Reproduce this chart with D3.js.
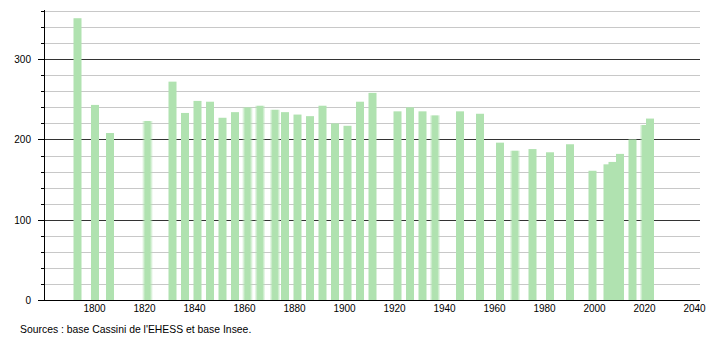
<!DOCTYPE html>
<html><head><meta charset="utf-8">
<script src="https://cdn.jsdelivr.net/npm/d3@7"></script>
<style>body{margin:0;background:#fff}svg{display:block;font-family:"Liberation Sans",Arial,sans-serif}</style>
</head><body><svg id="c" width="710" height="340"></svg>
<script>
const years = [1793,1800,1806,1821,1831,1836,1841,1846,1851,1856,1861,1866,1872,1876,1881,1886,1891,1896,1901,1906,1911,1921,1926,1931,1936,1946,1954,1962,1968,1975,1982,1990,1999,2005,2007,2010,2015,2020,2022];
const population = [351,243,208,223,272,233,248,247,227,234,240,242,237,234,231,229,242,220,217,247,258,235,240,235,230,235,232,196,186,188,184,194,161,169,172,182,200,218,226];
const fadedYears = [1821,1861,1866,1872,1936,1968,2020];
const xTicks = [1800,1820,1840,1860,1880,1900,1920,1940,1960,1980,2000,2020,2040];
const yMajor = [0,100,200,300];
const yMinor = [20,40,60,80,120,140,160,180,220,240,260,280,320,340,360];
const sourceText = "Sources : base Cassini de l'EHESS et base Insee.";

const svg = d3.select("#c");
const x = d3.scaleLinear().domain([1780, 2042]).range([44.5, 699.5]);
const y = d3.scaleLinear().domain([0, 360]).range([300, 11]);
const color = "#b0e2b0";

const defs = svg.append("defs");
const g = defs.append("linearGradient").attr("id","fade").attr("x1","0").attr("x2","1").attr("y1","0").attr("y2","0");
[[0,0],[0.28,1],[0.72,1],[1,0]].forEach(([o,a])=>g.append("stop").attr("offset",o).attr("stop-color",color).attr("stop-opacity",a));

// grid
svg.append("g").selectAll("line").data(yMinor).join("line")
  .attr("x1",45).attr("x2",700).attr("y1",d=>Math.round(y(d))+0.5).attr("y2",d=>Math.round(y(d))+0.5)
  .attr("stroke","#c8c8c8").attr("stroke-width",1);
svg.append("g").selectAll("line").data(yMajor.filter(d=>d>0)).join("line")
  .attr("x1",45).attr("x2",700).attr("y1",d=>Math.round(y(d))+0.5).attr("y2",d=>Math.round(y(d))+0.5)
  .attr("stroke","#333").attr("stroke-width",1);

// bars
const data = years.map((yr,i)=>({yr, v: population[i], faded: fadedYears.includes(yr)}));
svg.append("g").selectAll("rect").data(data).join("rect")
  .attr("x", d => d.faded ? x(d.yr)-5 : x(d.yr)-3.5)
  .attr("width", d => d.faded ? 11 : 8)
  .attr("y", d => y(d.v))
  .attr("height", d => y(0)-y(d.v))
  .attr("fill", d => d.faded ? "url(#fade)" : color);

// y axis ticks
svg.append("g").selectAll("line").data(yMinor).join("line")
  .attr("x1",41).attr("x2",44).attr("y1",d=>Math.round(y(d))+0.5).attr("y2",d=>Math.round(y(d))+0.5)
  .attr("stroke","#000");
svg.append("g").selectAll("line").data(yMajor).join("line")
  .attr("x1",38).attr("x2",44).attr("y1",d=>Math.round(y(d))+0.5).attr("y2",d=>Math.round(y(d))+0.5)
  .attr("stroke","#000");
svg.append("g").selectAll("text").data(yMajor).join("text")
  .attr("x",31).attr("y",d=>y(d)+4).attr("text-anchor","end").attr("font-size",10).attr("fill","#000")
  .text(d=>d);

// axes lines
svg.append("line").attr("x1",44.5).attr("x2",44.5).attr("y1",10).attr("y2",300).attr("stroke","#000");
svg.append("line").attr("x1",44).attr("x2",700).attr("y1",300.5).attr("y2",300.5).attr("stroke","#000");

// x labels
svg.append("g").selectAll("text").data(xTicks).join("text")
  .attr("x",d=>x(d)).attr("y",312).attr("text-anchor","middle").attr("font-size",10).attr("fill","#000")
  .text(d=>d);

svg.append("text").attr("x",20).attr("y",333).attr("font-size",10.4).attr("fill","#000").text(sourceText);
</script></body></html>
